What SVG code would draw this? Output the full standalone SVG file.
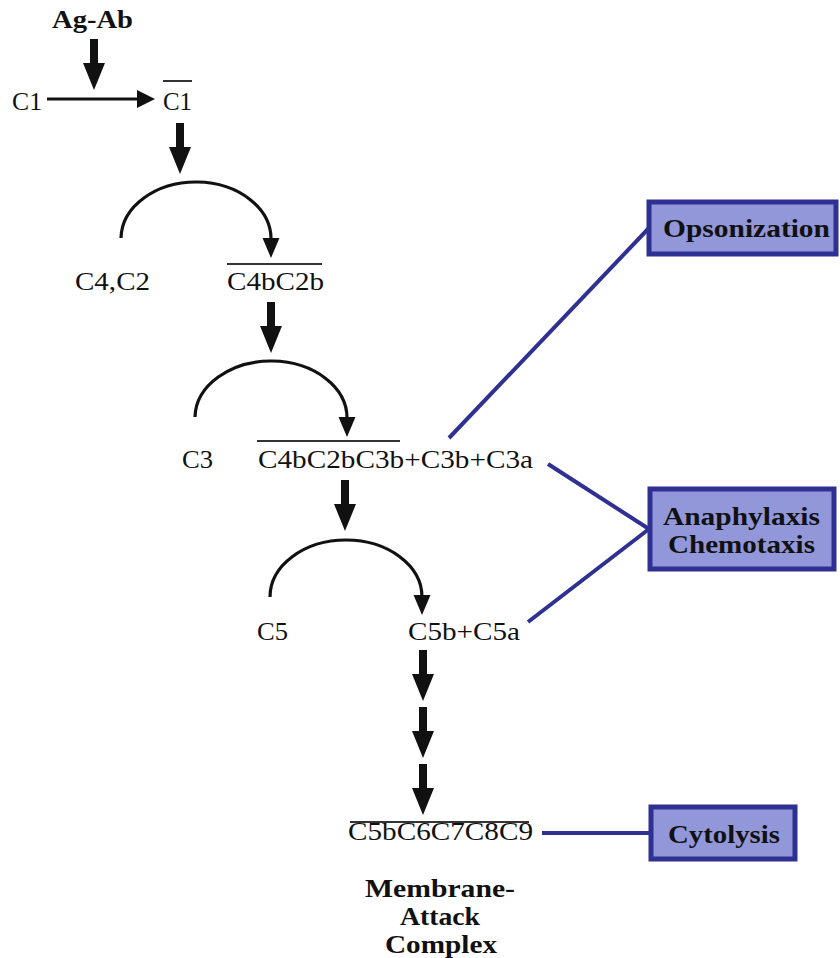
<svg xmlns="http://www.w3.org/2000/svg" xmlns:xlink="http://www.w3.org/1999/xlink" width="840" height="958" viewBox="0 0 840 958">
<style>
.t{font-family:"Liberation Serif","Times New Roman",serif;font-size:26px;fill:#111}
.b{font-family:"Liberation Serif","Times New Roman",serif;font-size:26px;font-weight:bold;fill:#111}
.arc{fill:none;stroke:#111;stroke-width:3.2}
.bar{stroke:#333;stroke-width:2}
.box{fill:#9297da;stroke:#2e3192;stroke-width:5}
.bl{stroke:#2e3192;stroke-width:4;fill:none}
</style>
<defs>
<g id="thick"><rect x="-4" y="0" width="8" height="27" fill="#111"/><polygon points="-11,24 11,24 0,51" fill="#111"/></g>
<polygon id="head" points="-8.5,-20 8.5,-20 0,0" fill="#111"/>
</defs>
<rect width="840" height="958" fill="#fff"/>
<g id="connectors">
<use xlink:href="#thick" x="94" y="39"/>
<line x1="47" y1="99" x2="140" y2="99" stroke="#111" stroke-width="3"/>
<polygon points="137,90 155,99 137,108" fill="#111"/>
<use xlink:href="#thick" x="180" y="123"/>
<path class="arc" d="M121,238 A75,57 0 0 1 271,240"/>
<use xlink:href="#head" x="271" y="258"/>
<use xlink:href="#thick" x="271" y="302"/>
<path class="arc" d="M195,417 A76,57 0 0 1 347,419"/>
<use xlink:href="#head" x="347" y="437"/>
<use xlink:href="#thick" x="345" y="480"/>
<path class="arc" d="M270,597 A76,57 0 0 1 422,597"/>
<use xlink:href="#head" x="422" y="615"/>
<use xlink:href="#thick" x="423" y="650"/>
<use xlink:href="#thick" x="423" y="707"/>
<use xlink:href="#thick" x="423" y="764"/>
<line class="bl" x1="449" y1="438" x2="649" y2="228"/>
<line class="bl" x1="548" y1="464" x2="649" y2="529"/>
<line class="bl" x1="528" y1="622" x2="649" y2="529"/>
<line class="bl" x1="542" y1="833" x2="651" y2="833"/>
</g>
<g id="agab"><text class="b" x="52" y="28" textLength="81" lengthAdjust="spacingAndGlyphs">Ag-Ab</text></g>
<g id="c1"><text class="t" x="12" y="110" textLength="30" lengthAdjust="spacingAndGlyphs">C1</text></g>
<g id="c1bar"><line class="bar" x1="163" y1="81" x2="192" y2="81"/><text class="t" x="163" y="110" textLength="29" lengthAdjust="spacingAndGlyphs">C1</text></g>
<g id="c4c2"><text class="t" x="75" y="290" textLength="75" lengthAdjust="spacingAndGlyphs">C4,C2</text></g>
<g id="c4bc2b"><line class="bar" x1="227" y1="264" x2="322" y2="264"/><text class="t" x="227" y="290" textLength="97" lengthAdjust="spacingAndGlyphs">C4bC2b</text></g>
<g id="c3"><text class="t" x="182" y="468" textLength="31" lengthAdjust="spacingAndGlyphs">C3</text></g>
<g id="c3conv"><line class="bar" x1="257" y1="441" x2="400" y2="441"/><text class="t" x="258" y="468" textLength="275" lengthAdjust="spacingAndGlyphs">C4bC2bC3b+C3b+C3a</text></g>
<g id="c5"><text class="t" x="257" y="640" textLength="31" lengthAdjust="spacingAndGlyphs">C5</text></g>
<g id="c5conv"><text class="t" x="408" y="640" textLength="112" lengthAdjust="spacingAndGlyphs">C5b+C5a</text></g>
<g id="mac"><line class="bar" x1="350" y1="822" x2="529" y2="822"/><text class="t" x="348" y="840" textLength="185" lengthAdjust="spacingAndGlyphs">C5bC6C7C8C9</text>
<text class="b" x="440" y="897" text-anchor="middle" textLength="150" lengthAdjust="spacingAndGlyphs">Membrane-</text>
<text class="b" x="440" y="925" text-anchor="middle" textLength="80" lengthAdjust="spacingAndGlyphs">Attack</text>
<text class="b" x="441" y="953" text-anchor="middle" textLength="112" lengthAdjust="spacingAndGlyphs">Complex</text></g>
<g id="opsonization"><rect class="box" x="649" y="202" width="187" height="52"/><text class="b" x="663" y="237" textLength="167" lengthAdjust="spacingAndGlyphs">Opsonization</text></g>
<g id="anaphylaxis"><rect class="box" x="650" y="489" width="184" height="80"/><text class="b" x="663" y="525" textLength="157" lengthAdjust="spacingAndGlyphs">Anaphylaxis</text><text class="b" x="668" y="553" textLength="147" lengthAdjust="spacingAndGlyphs">Chemotaxis</text></g>
<g id="cytolysis"><rect class="box" x="651" y="807" width="144" height="52"/><text class="b" x="668" y="843" textLength="112" lengthAdjust="spacingAndGlyphs">Cytolysis</text></g>
</svg>
